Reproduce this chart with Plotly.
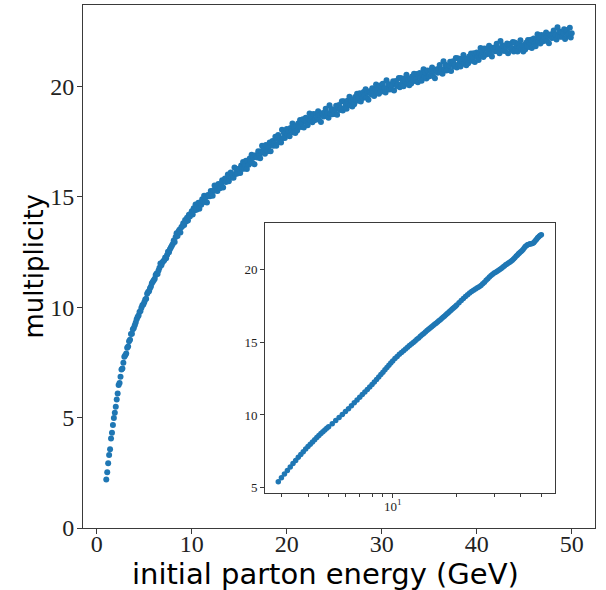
import plotly.graph_objects as go

# ---- main scatter: initial parton energy (GeV) vs multiplicity ----
energy = [
    1.0, 1.1, 1.2, 1.3, 1.4, 1.5, 1.6, 1.7, 1.8, 1.9,
    2.0, 2.1, 2.2, 2.3, 2.4, 2.5, 2.6, 2.7, 2.8, 2.9,
    3.0, 3.1, 3.2, 3.3, 3.4, 3.5, 3.6, 3.7, 3.8, 3.9,
    4.0, 4.1, 4.2, 4.3, 4.4, 4.5, 4.6, 4.7, 4.8, 4.9,
    5.0, 5.1, 5.2, 5.3, 5.4, 5.5, 5.6, 5.7, 5.8, 5.9,
    6.0, 6.1, 6.2, 6.3, 6.4, 6.5, 6.6, 6.7, 6.8, 6.9,
    7.0, 7.1, 7.2, 7.3, 7.4, 7.5, 7.6, 7.7, 7.8, 7.9,
    8.0, 8.1, 8.2, 8.3, 8.4, 8.5, 8.6, 8.7, 8.8, 8.9,
    9.0, 9.1, 9.2, 9.3, 9.4, 9.5, 9.6, 9.7, 9.8, 9.9,
    10.0, 10.1, 10.2, 10.3, 10.4, 10.5, 10.6, 10.7, 10.8, 10.9,
    11.0, 11.1, 11.2, 11.3, 11.4, 11.5, 11.6, 11.7, 11.8, 11.9,
    12.0, 12.1, 12.2, 12.3, 12.4, 12.5, 12.6, 12.7, 12.8, 12.9,
    13.0, 13.1, 13.2, 13.3, 13.4, 13.5, 13.6, 13.7, 13.8, 13.9,
    14.0, 14.1, 14.2, 14.3, 14.4, 14.5, 14.6, 14.7, 14.8, 14.9,
    15.0, 15.1, 15.2, 15.3, 15.4, 15.5, 15.6, 15.7, 15.8, 15.9,
    16.0, 16.1, 16.2, 16.3, 16.4, 16.5, 16.6, 16.7, 16.8, 16.9,
    17.0, 17.1, 17.2, 17.3, 17.4, 17.5, 17.6, 17.7, 17.8, 17.9,
    18.0, 18.1, 18.2, 18.3, 18.4, 18.5, 18.6, 18.7, 18.8, 18.9,
    19.0, 19.1, 19.2, 19.3, 19.4, 19.5, 19.6, 19.7, 19.8, 19.9,
    20.0, 20.1, 20.2, 20.3, 20.4, 20.5, 20.6, 20.7, 20.8, 20.9,
    21.0, 21.1, 21.2, 21.3, 21.4, 21.5, 21.6, 21.7, 21.8, 21.9,
    22.0, 22.1, 22.2, 22.3, 22.4, 22.5, 22.6, 22.7, 22.8, 22.9,
    23.0, 23.1, 23.2, 23.3, 23.4, 23.5, 23.6, 23.7, 23.8, 23.9,
    24.0, 24.1, 24.2, 24.3, 24.4, 24.5, 24.6, 24.7, 24.8, 24.9,
    25.0, 25.1, 25.2, 25.3, 25.4, 25.5, 25.6, 25.7, 25.8, 25.9,
    26.0, 26.1, 26.2, 26.3, 26.4, 26.5, 26.6, 26.7, 26.8, 26.9,
    27.0, 27.1, 27.2, 27.3, 27.4, 27.5, 27.6, 27.7, 27.8, 27.9,
    28.0, 28.1, 28.2, 28.3, 28.4, 28.5, 28.6, 28.7, 28.8, 28.9,
    29.0, 29.1, 29.2, 29.3, 29.4, 29.5, 29.6, 29.7, 29.8, 29.9,
    30.0, 30.1, 30.2, 30.3, 30.4, 30.5, 30.6, 30.7, 30.8, 30.9,
    31.0, 31.1, 31.2, 31.3, 31.4, 31.5, 31.6, 31.7, 31.8, 31.9,
    32.0, 32.1, 32.2, 32.3, 32.4, 32.5, 32.6, 32.7, 32.8, 32.9,
    33.0, 33.1, 33.2, 33.3, 33.4, 33.5, 33.6, 33.7, 33.8, 33.9,
    34.0, 34.1, 34.2, 34.3, 34.4, 34.5, 34.6, 34.7, 34.8, 34.9,
    35.0, 35.1, 35.2, 35.3, 35.4, 35.5, 35.6, 35.7, 35.8, 35.9,
    36.0, 36.1, 36.2, 36.3, 36.4, 36.5, 36.6, 36.7, 36.8, 36.9,
    37.0, 37.1, 37.2, 37.3, 37.4, 37.5, 37.6, 37.7, 37.8, 37.9,
    38.0, 38.1, 38.2, 38.3, 38.4, 38.5, 38.6, 38.7, 38.8, 38.9,
    39.0, 39.1, 39.2, 39.3, 39.4, 39.5, 39.6, 39.7, 39.8, 39.9,
    40.0, 40.1, 40.2, 40.3, 40.4, 40.5, 40.6, 40.7, 40.8, 40.9,
    41.0, 41.1, 41.2, 41.3, 41.4, 41.5, 41.6, 41.7, 41.8, 41.9,
    42.0, 42.1, 42.2, 42.3, 42.4, 42.5, 42.6, 42.7, 42.8, 42.9,
    43.0, 43.1, 43.2, 43.3, 43.4, 43.5, 43.6, 43.7, 43.8, 43.9,
    44.0, 44.1, 44.2, 44.3, 44.4, 44.5, 44.6, 44.7, 44.8, 44.9,
    45.0, 45.1, 45.2, 45.3, 45.4, 45.5, 45.6, 45.7, 45.8, 45.9,
    46.0, 46.1, 46.2, 46.3, 46.4, 46.5, 46.6, 46.7, 46.8, 46.9,
    47.0, 47.1, 47.2, 47.3, 47.4, 47.5, 47.6, 47.7, 47.8, 47.9,
    48.0, 48.1, 48.2, 48.3, 48.4, 48.5, 48.6, 48.7, 48.8, 48.9,
    49.0, 49.1, 49.2, 49.3, 49.4, 49.5, 49.6, 49.7, 49.8, 49.9,
    50.0,
]

multiplicity = [
    2.20, 2.52, 2.93, 3.30, 3.57, 4.05, 4.31, 4.66, 4.98, 5.22,
    5.49, 5.82, 6.09, 6.47, 6.57, 6.85, 7.18, 7.22, 7.48, 7.75,
    7.82, 7.90, 8.16, 8.22, 8.45, 8.52, 8.78, 8.80, 9.00, 9.05,
    9.18, 9.30, 9.45, 9.55, 9.62, 9.78, 9.82, 9.97, 10.09, 10.12,
    10.22, 10.35, 10.38, 10.61, 10.69, 10.72, 10.86, 10.93, 11.08, 11.15,
    11.22, 11.28, 11.45, 11.52, 11.50, 11.66, 11.78, 11.98, 11.90, 12.02,
    12.08, 12.12, 12.25, 12.21, 12.36, 12.51, 12.48, 12.62, 12.70, 12.78,
    12.86, 13.02, 12.95, 13.18, 13.35, 13.22, 13.42, 13.50, 13.38, 13.62,
    13.66, 13.80, 13.72, 13.95, 13.88, 14.05, 13.92, 14.18, 14.10, 14.22,
    14.34, 14.20, 14.48, 14.39, 14.65, 14.41, 14.57, 14.73, 14.46, 14.74,
    14.64, 14.88, 14.78, 15.04, 14.76, 14.97, 14.74, 15.08, 15.06, 15.02,
    15.26, 15.11, 15.04, 15.29, 15.51, 15.28, 15.45, 15.26, 15.58, 15.38,
    15.39, 15.57, 15.74, 15.42, 15.73, 15.82, 15.67, 15.75, 16.01, 15.70,
    15.96, 16.10, 15.87, 16.00, 15.86, 16.32, 16.03, 16.23, 16.05, 16.24,
    16.27, 16.07, 16.41, 16.27, 16.57, 16.27, 16.44, 16.63, 16.26, 16.60,
    16.45, 16.73, 16.60, 16.90, 16.53, 16.78, 16.47, 16.88, 16.84, 16.77,
    17.06, 16.85, 16.74, 17.06, 17.31, 17.00, 17.19, 16.94, 17.34, 17.07,
    17.06, 17.27, 17.46, 17.06, 17.43, 17.52, 17.31, 17.40, 17.72, 17.31,
    17.62, 17.79, 17.49, 17.64, 17.45, 18.03, 17.66, 17.89, 17.66, 17.88,
    18.07, 17.78, 17.97, 17.74, 18.11, 17.98, 18.31, 17.92, 18.13, 17.88,
    18.20, 18.00, 18.32, 18.18, 18.47, 18.16, 18.32, 18.51, 18.13, 18.46,
    18.58, 18.36, 18.24, 18.53, 18.77, 18.45, 18.63, 18.37, 18.74, 18.46,
    18.48, 18.74, 18.59, 18.87, 18.49, 18.71, 18.38, 18.78, 18.72, 18.63,
    18.82, 18.98, 18.65, 18.79, 18.58, 19.14, 18.76, 18.97, 18.73, 18.92,
    18.74, 18.94, 19.12, 18.71, 19.07, 19.15, 18.93, 19.01, 19.32, 18.90,
    19.32, 19.03, 19.21, 18.98, 19.34, 19.21, 19.53, 19.14, 19.34, 19.09,
    19.40, 19.19, 19.51, 19.37, 19.66, 19.34, 19.50, 19.68, 19.31, 19.63,
    19.47, 19.74, 19.58, 19.87, 19.48, 19.71, 19.39, 19.78, 19.73, 19.63,
    19.91, 19.68, 19.56, 19.85, 20.08, 19.76, 19.93, 19.66, 20.03, 19.75,
    19.96, 20.11, 19.79, 19.92, 19.72, 20.27, 19.88, 20.10, 19.85, 20.05,
    19.86, 20.06, 20.23, 19.81, 20.16, 20.24, 20.01, 20.09, 20.38, 19.96,
    20.37, 20.07, 20.24, 20.00, 20.35, 20.21, 20.52, 20.12, 20.31, 20.05,
    20.35, 20.13, 20.44, 20.29, 20.57, 20.24, 20.39, 20.56, 20.18, 20.49,
    20.60, 20.37, 20.25, 20.54, 20.77, 20.45, 20.62, 20.35, 20.72, 20.44,
    20.45, 20.72, 20.56, 20.85, 20.46, 20.69, 20.36, 20.76, 20.70, 20.61,
    20.80, 20.96, 20.64, 20.77, 20.57, 21.13, 20.75, 20.97, 20.72, 20.92,
    20.74, 20.94, 21.11, 20.69, 21.05, 21.13, 20.90, 20.98, 21.28, 20.85,
    21.27, 20.97, 21.14, 20.90, 21.25, 21.11, 21.42, 21.02, 21.21, 20.95,
    21.25, 21.04, 21.35, 21.20, 21.48, 21.16, 21.31, 21.49, 21.10, 21.42,
    21.53, 21.31, 21.19, 21.49, 21.73, 21.41, 21.59, 21.33, 21.71, 21.43,
    21.45, 21.71, 21.56, 21.84, 21.45, 21.68, 21.35, 21.74, 21.68, 21.59,
    21.78, 21.93, 21.59, 21.72, 21.50, 22.05, 21.66, 21.86, 21.61, 21.79,
    21.60, 21.78, 21.94, 21.50, 21.85, 21.91, 21.67, 21.73, 22.01, 21.57,
    21.98, 21.67, 21.83, 21.58, 21.92, 21.77, 22.08, 21.66, 21.85, 21.57,
    21.87, 21.66, 21.97, 21.82, 22.10, 21.78, 21.94, 22.11, 21.73, 22.04,
    22.16, 21.94, 21.81, 22.11, 22.35, 22.03, 22.20, 21.94, 22.32, 22.03,
    22.05, 22.31, 22.16, 22.44, 22.05, 22.28, 21.95, 22.34, 22.28, 22.19,
    22.38, 22.53, 22.20, 22.33, 22.12, 22.67, 22.28, 22.49, 22.24, 22.43,
    22.24, 22.42, 22.58, 22.14, 22.49, 22.55, 22.31, 22.37, 22.65, 22.21,
    22.40,
]

# ---- inset: smoothed multiplicity on a log energy axis ----
inset_energy = [
    2.9, 3.0, 3.1, 3.2, 3.3, 3.4, 3.5, 3.6, 3.7, 3.8, 3.9,
    4.0, 4.1, 4.2, 4.3, 4.4, 4.5, 4.6, 4.7, 4.8, 4.9, 5.0,
    5.2, 5.4, 5.6, 5.8, 6.0, 6.2, 6.4, 6.6, 6.8, 7.0,
    7.2, 7.4, 7.6, 7.8, 8.0, 8.2, 8.4, 8.6, 8.8, 9.0,
    9.2, 9.4, 9.6, 9.8, 10.0,
    10.25, 10.5, 10.75, 11.0, 11.25, 11.5, 11.75, 12.0, 12.25, 12.5,
    12.75, 13.0, 13.25, 13.5, 13.75, 14.0, 14.25, 14.5, 14.75, 15.0,
    15.25, 15.5, 15.75, 16.0, 16.25, 16.5, 16.75, 17.0, 17.25, 17.5,
    17.75, 18.0, 18.25, 18.5, 18.75, 19.0, 19.25, 19.5, 19.75, 20.0,
    20.5, 21.0, 21.5, 22.0, 22.5, 23.0, 23.5, 24.0, 24.5, 25.0,
    25.5, 26.0, 26.5, 27.0, 27.5, 28.0, 28.5, 29.0, 29.5, 30.0,
    30.5, 31.0, 31.5, 32.0, 32.5, 33.0, 33.5, 34.0, 34.5, 35.0,
    35.5, 36.0, 36.5, 37.0, 37.5, 38.0, 38.5, 39.0, 39.5, 40.0,
    40.5, 41.0, 41.5, 42.0, 42.5, 43.0, 43.5, 44.0, 44.5, 45.0,
    45.5, 46.0, 46.5, 47.0, 47.5, 48.0, 48.5, 49.0, 49.5, 50.0,
]

inset_multiplicity = [
    5.41, 5.68, 5.94, 6.19, 6.43, 6.66, 6.88, 7.09, 7.29, 7.48, 7.66,
    7.83, 7.99, 8.15, 8.30, 8.45, 8.59, 8.72, 8.85, 8.97, 9.08, 9.19,
    9.40, 9.62, 9.83, 10.03, 10.23, 10.43, 10.63, 10.83, 11.03, 11.22,
    11.40, 11.58, 11.75, 11.92, 12.09, 12.27, 12.44, 12.61, 12.77, 12.94,
    13.10, 13.26, 13.41, 13.57, 13.71,
    13.87, 14.02, 14.16, 14.29, 14.41, 14.53, 14.65, 14.76, 14.87, 14.98,
    15.08, 15.19, 15.29, 15.40, 15.50, 15.59, 15.69, 15.79, 15.88, 15.97,
    16.06, 16.14, 16.22, 16.30, 16.38, 16.46, 16.54, 16.63, 16.71, 16.78,
    16.86, 16.94, 17.02, 17.10, 17.17, 17.25, 17.32, 17.40, 17.47, 17.55,
    17.70, 17.86, 18.00, 18.13, 18.26, 18.38, 18.48, 18.57, 18.65, 18.73,
    18.81, 18.89, 19.00, 19.11, 19.24, 19.36, 19.47, 19.58, 19.66, 19.74,
    19.80, 19.87, 19.94, 20.01, 20.08, 20.16, 20.23, 20.31, 20.37, 20.43,
    20.49, 20.56, 20.63, 20.71, 20.80, 20.89, 20.97, 21.06, 21.13, 21.21,
    21.28, 21.36, 21.46, 21.56, 21.62, 21.68, 21.71, 21.74, 21.75, 21.76,
    21.79, 21.83, 21.91, 21.99, 22.07, 22.16, 22.22, 22.29, 22.34, 22.38,
]

main_x_ticks = [0, 10, 20, 30, 40, 50]
main_y_ticks = [0, 5, 10, 15, 20]
inset_y_ticks = [5, 10, 15, 20]
inset_x_major = [10]
inset_x_major_text = ["10<sup>1</sup>"]
inset_x_minor = [3, 4, 5, 6, 7, 8, 9, 20, 30, 40, 50]

BLUE = "#1f77b4"
AXC = "#3a3a3a"
SERIF = "Liberation Serif, DejaVu Serif, serif"
SANS = "DejaVu Sans, Liberation Sans, sans-serif"

fig = go.Figure()
fig.add_trace(go.Scatter(
    x=energy, y=multiplicity, mode="markers",
    marker=dict(color=BLUE, size=6, line=dict(width=0)),
    xaxis="x", yaxis="y", showlegend=False, hoverinfo="skip",
))
fig.add_trace(go.Scatter(
    x=inset_energy, y=inset_multiplicity, mode="markers",
    marker=dict(color=BLUE, size=5.5, line=dict(width=0)),
    xaxis="x2", yaxis="y2", showlegend=False, hoverinfo="skip",
))

axis_common = dict(showgrid=False, zeroline=False, showline=True, mirror=True,
                   linecolor=AXC, linewidth=1, ticks="outside", tickcolor=AXC,
                   automargin=False)

fig.update_layout(
    width=606, height=590,
    margin=dict(l=83, r=11, t=5, b=62, autoexpand=False),
    paper_bgcolor="white", plot_bgcolor="white",
    xaxis=dict(domain=[0, 1], range=[-1.45, 52.45], tickvals=main_x_ticks,
               ticklen=5, ticklabelstandoff=-11,
               tickfont=dict(family=SERIF, size=24, color="#222"),
               anchor="y", **axis_common),
    yaxis=dict(domain=[0, 1], range=[0, 23.68], tickvals=main_y_ticks,
               ticklen=5, ticklabelstandoff=-2,
               tickfont=dict(family=SERIF, size=24, color="#222"),
               anchor="x", **axis_common),
    xaxis2=dict(domain=[0.3555, 0.9219], type="log", range=[0.40, 1.763],
                tickvals=inset_x_major, ticktext=inset_x_major_text, ticklen=4,
                ticklabelstandoff=-3,
                tickfont=dict(family=SERIF, size=13, color="#222"),
                minor=dict(tickvals=inset_x_minor, ticks="outside", ticklen=2.5,
                           tickcolor=AXC),
                anchor="y2", **axis_common),
    yaxis2=dict(domain=[0.0669, 0.5832], range=[4.64, 23.18], tickvals=inset_y_ticks,
                ticklen=4, tickfont=dict(family=SERIF, size=13, color="#222"),
                anchor="x2", **axis_common),
    annotations=[
        dict(text="initial parton energy (GeV)", xref="paper", yref="paper",
             x=0.5, y=0, xanchor="center", yanchor="middle", yshift=-46, xshift=-14,
             showarrow=False, font=dict(family=SANS, size=29, color="black")),
        dict(text="multiplicity", xref="paper", yref="paper",
             x=0, y=0.5, xanchor="center", yanchor="middle", xshift=-50,
             textangle=-90, showarrow=False,
             font=dict(family=SANS, size=26, color="black")),
    ],
)

fig.write_html(
    "out.html",
    config={"displayModeBar": False},
    post_script="document.body.style.margin='0';document.body.style.overflow='hidden';",
)
